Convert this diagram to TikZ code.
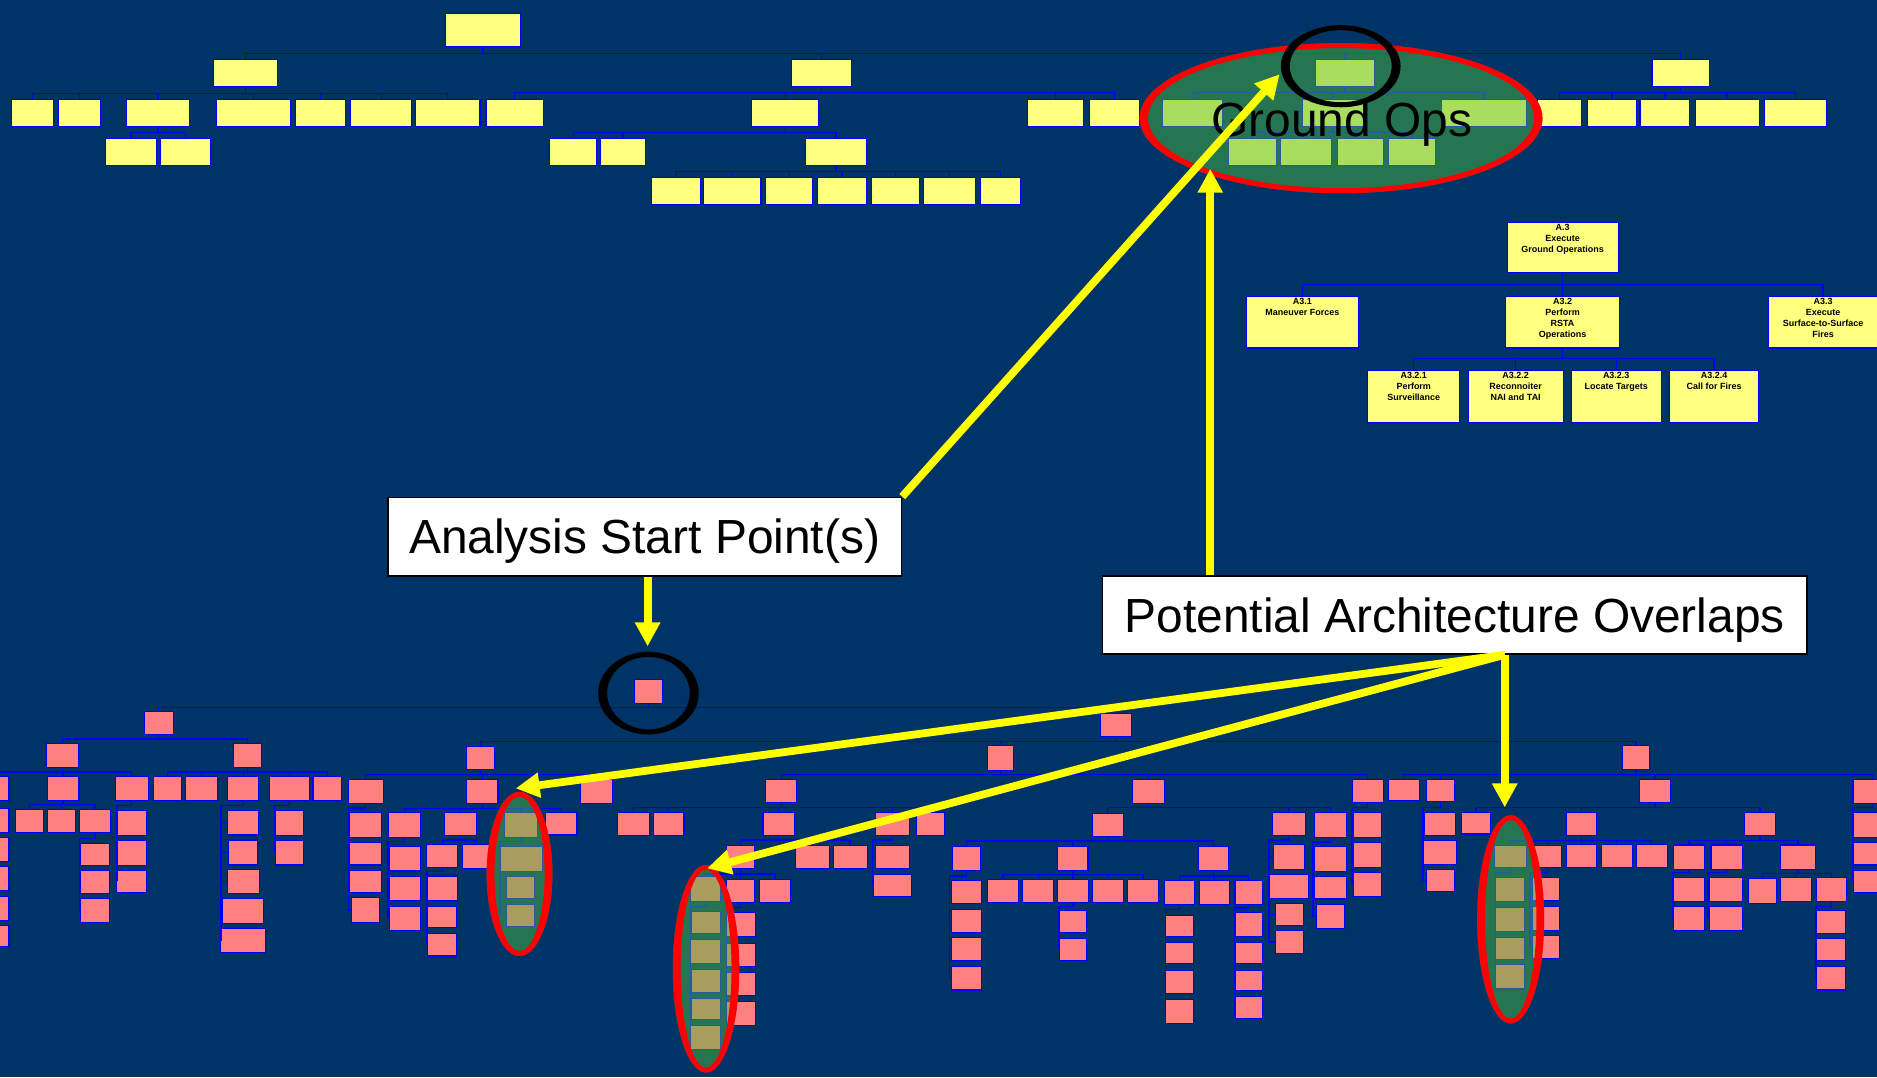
\documentclass[tikz,border=0pt]{standalone}
\usepackage{fontspec}
\setmainfont{Liberation Sans}
\usetikzlibrary{arrows.meta}
\definecolor{bg}{RGB}{0,51,102}
\definecolor{yel}{RGB}{255,255,128}
\definecolor{pnk}{RGB}{255,128,128}
\definecolor{lblue}{RGB}{0,0,255}
\definecolor{ovfill}{RGB}{78,186,61}
\definecolor{ringred}{RGB}{255,0,0}
\definecolor{ayel}{RGB}{255,255,0}
\newcommand\bx[6]{\node[#2,minimum width={(#5)-(#3)},minimum height={(#6)-(#4)}] (#1) at ({((#3)+(#5))/2},{((#4)+(#6))/2}) {};}
\newcommand\kids[3]{\coordinate (kb) at (0,#2);\foreach \kk in {#3}{\draw[tl] (#1.south) |- (\kk.north |- kb) -- (\kk.north);}}
\newcommand\chain[4]{\coordinate (kb) at (#3,#2);\foreach \kk in {#4}{\draw[tl] (#1.south) |- (kb) |- (\kk.west);}}
\newcommand\ring[7]{\fill[#7,even odd rule] (#1,#2) ellipse [x radius=#3pt,y radius=#4pt] (#1,#2) ellipse [x radius=#5pt,y radius=#6pt];}
\newcommand\ovl[4]{\fill[ovfill,fill opacity=0.49] (#1,#2) ellipse [x radius=#3pt,y radius=#4pt];}
\begin{document}
\begin{tikzpicture}[x=1pt,y=-1pt,
 ybox/.style={draw=lblue,fill=yel,line width=0.9pt,inner sep=0pt,outer sep=0pt},
 pbox/.style={draw=lblue,fill=pnk,line width=0.9pt,inner sep=0pt,outer sep=0pt},
 tl/.style={draw=lblue,line width=1.1pt},
 dtext/.style={font=\fontsize{7.5}{9.2}\selectfont\bfseries,align=center,inner sep=0pt,anchor=north,text=black},
 lbl/.style={draw=black,line width=1.4pt,fill=white,inner sep=0pt,font=\fontsize{40}{48}\selectfont,text height=28.6pt,text depth=0pt},
 yarr/.style={draw=ayel,line width=6.5pt,-{Triangle[length=20pt,width=20pt]}}]
\useasboundingbox (0,0) rectangle (1568,900);
\fill[bg] (0,0) rectangle (1568,900);
% ---------- top yellow tree
\bx{Y0}{ybox}{372}{11}{435}{39}
\bx{Y1}{ybox}{178}{50}{232}{72.5}
\bx{Y2}{ybox}{661}{50}{711}{72.5}
\bx{G0}{ybox}{1099}{50}{1148}{72.5}
\bx{Y3}{ybox}{1380}{50}{1428}{72.5}
\kids{Y0}{44.5}{Y1,Y2,G0,Y3}
\bx{Y11}{ybox}{9.5}{83}{45}{106}
\bx{Y12}{ybox}{49}{83}{84}{106}
\bx{Y13}{ybox}{106}{83}{158}{106}
\bx{Y14}{ybox}{181}{83}{243}{106}
\bx{Y15}{ybox}{247}{83}{289}{106}
\bx{Y16}{ybox}{293}{83}{344}{106}
\bx{Y17}{ybox}{347}{83}{401}{106}
\kids{Y1}{78}{Y11,Y12,Y13,Y14,Y15,Y16,Y17}
\bx{Y21}{ybox}{406}{83}{454}{106}
\bx{Y22}{ybox}{628}{83}{684}{106}
\bx{Y23}{ybox}{858}{83}{905.5}{106}
\bx{Y24}{ybox}{910}{83}{952}{106}
\kids{Y2}{77}{Y21,Y22,Y23,Y24}
\bx{G1}{ybox}{971}{83}{1021}{106}
\bx{G2}{ybox}{1088}{83}{1139}{106}
\bx{G3}{ybox}{1204.5}{83}{1275}{106}
\kids{G0}{77.4}{G1,G2,G3}
\bx{Y31}{ybox}{1284}{83}{1321}{106}
\bx{Y32}{ybox}{1326}{83}{1367}{106}
\bx{Y33}{ybox}{1370}{83}{1411.5}{106}
\bx{Y34}{ybox}{1416}{83}{1469.5}{106}
\bx{Y35}{ybox}{1474}{83}{1526}{106}
\kids{Y3}{77.4}{Y31,Y32,Y33,Y34,Y35}
\bx{Y131}{ybox}{88.4}{115.6}{130.4}{138.5}
\bx{Y132}{ybox}{134}{115.6}{176}{138.5}
\kids{Y13}{110.5}{Y131,Y132}
\bx{Y221}{ybox}{459}{115.6}{498.6}{138.5}
\bx{Y222}{ybox}{502}{115.6}{539}{138.5}
\bx{Y223}{ybox}{672.6}{115.6}{724}{138.5}
\kids{Y22}{110.5}{Y221,Y222,Y223}
\bx{G21}{ybox}{1026}{115.6}{1066}{138.5}
\bx{G22}{ybox}{1070}{115.6}{1112}{138.5}
\bx{G23}{ybox}{1117}{115.6}{1156}{138.5}
\bx{G24}{ybox}{1160}{115.6}{1199}{138.5}
\kids{G2}{110.5}{G21,G22,G23,G24}
\bx{Y2231}{ybox}{544}{148.4}{585}{170.6}
\bx{Y2232}{ybox}{587.6}{148.4}{635.7}{170.6}
\bx{Y2233}{ybox}{639.6}{148.4}{679}{170.6}
\bx{Y2234}{ybox}{683}{148.4}{724}{170.6}
\bx{Y2235}{ybox}{728}{148.4}{768}{170.6}
\bx{Y2236}{ybox}{771.7}{148.4}{814.8}{170.6}
\bx{Y2237}{ybox}{818.7}{148.4}{852.8}{170.6}
\kids{Y223}{143.4}{Y2231,Y2232,Y2233,Y2234,Y2235,Y2236,Y2237}
% Ground Ops highlight
\ovl{1120.3}{98.7}{168.3}{62.7}
\ring{1120.3}{98.7}{168.3}{62.7}{161.3}{58.5}{ringred}
\node[font=\fontsize{40}{48}\selectfont,anchor=base,inner sep=0pt] (gops) at (1121,114.2) {Ground Ops};
\ring{1120}{55.3}{50}{34.3}{42.6}{30.1}{black}
% ---------- detail tree
\bx{A3}{ybox}{1259}{185.7}{1351.7}{228}
\bx{A31}{ybox}{1041.4}{247.3}{1134.5}{290.7}
\bx{A32}{ybox}{1258}{247.3}{1352.6}{290.7}
\bx{A33}{ybox}{1477}{247.3}{1569}{290.7}
\kids{A3}{237.8}{A31,A32,A33}
\bx{A321}{ybox}{1142.7}{309.4}{1219.3}{352.8}
\bx{A322}{ybox}{1226.4}{309.4}{1305.8}{352.8}
\bx{A323}{ybox}{1312.5}{309.4}{1387.8}{352.8}
\bx{A324}{ybox}{1395}{309.4}{1468.8}{352.8}
\kids{A32}{299.4}{A321,A322,A323,A324}
\node[dtext] (A3t) at ([yshift=-1.6pt]A3.north) {A.3\\Execute\\Ground Operations};
\node[dtext] (A31t) at ([yshift=-1.6pt]A31.north) {A3.1\\Maneuver Forces};
\node[dtext] (A32t) at ([yshift=-1.6pt]A32.north) {A3.2\\Perform\\RSTA\\Operations};
\node[dtext] (A33t) at ([yshift=-1.6pt]A33.north) {A3.3\\Execute\\Surface-to-Surface\\Fires};
\node[dtext] (A321t) at ([yshift=-1.6pt]A321.north) {A3.2.1\\Perform\\Surveillance};
\node[dtext] (A322t) at ([yshift=-1.6pt]A322.north) {A3.2.2\\Reconnoiter\\NAI and TAI};
\node[dtext] (A323t) at ([yshift=-1.6pt]A323.north) {A3.2.3\\Locate Targets};
\node[dtext] (A324t) at ([yshift=-1.6pt]A324.north) {A3.2.4\\Call for Fires};
% ---------- pink tree
\bx{P0}{pbox}{530}{567.3}{553.5}{587.3}
\bx{P1}{pbox}{120.5}{594.6}{144.7}{613.5}
\bx{P2}{pbox}{919}{596}{945}{615.4}
\kids{P0}{591}{P1,P2}
\bx{P11}{pbox}{38.8}{621.3}{65.3}{640.8}
\bx{P12}{pbox}{195.4}{621.3}{218.2}{640.8}
\kids{P1}{617.4}{P11,P12}
\bx{P21}{pbox}{389.8}{623.3}{412.9}{643}
\bx{P22}{pbox}{824.6}{623}{846.6}{643.3}
\bx{P23}{pbox}{1355.5}{623}{1377.7}{642.7}
\kids{P2}{619.6}{P21,P22,P23}
\bx{P111}{pbox}{-18}{649}{7.5}{668.6}
\bx{P112}{pbox}{39.5}{649}{66}{668.6}
\bx{P113}{pbox}{96.2}{649}{123.8}{668.6}
\kids{P11}{645}{P111,P112,P113}
\bx{P121}{pbox}{128}{649}{151.8}{668.6}
\bx{P122}{pbox}{154.8}{649}{181.6}{668.6}
\bx{P123}{pbox}{190.2}{649}{216.3}{668.6}
\bx{P124}{pbox}{225}{649}{258.5}{668.6}
\bx{P125}{pbox}{261.5}{649}{285.3}{668.6}
\kids{P12}{645}{P121,P122,P123,P124,P125}
\bx{P211}{pbox}{291}{650.8}{320}{671.2}
\bx{P212}{pbox}{389.8}{650.8}{416}{671.2}
\bx{P213}{pbox}{485}{651}{511.8}{671}
\kids{P21}{647}{P211,P212,P213}
\bx{P221}{pbox}{639.6}{650.8}{665.7}{670.3}
\bx{P222}{pbox}{945.9}{650.8}{973}{671.2}
\bx{P223}{pbox}{1129.5}{650.8}{1155.6}{670.3}
\kids{P22}{647}{P221,P222,P223}
\bx{P231}{pbox}{1159.6}{650.8}{1185.7}{669}
\bx{P232}{pbox}{1191.7}{650.8}{1214.7}{669.5}
\bx{P233}{pbox}{1369.5}{650.8}{1395.5}{670.5}
\bx{P234}{pbox}{1547.9}{650.8}{1580}{671.2}
\kids{P23}{647}{P231,P232,P233,P234}
% left column
\bx{Q1}{pbox}{-18}{675.3}{7.5}{695.7}
\bx{Q2}{pbox}{-18}{699.6}{7.5}{719.9}
\bx{Q3}{pbox}{-18}{723.5}{7.5}{744}
\bx{Q4}{pbox}{-18}{748.6}{7.5}{769.2}
\bx{Q5}{pbox}{-18}{772.8}{7.5}{791}
\chain{P111}{672}{-20}{Q1,Q2,Q3,Q4,Q5}
\bx{P1121}{pbox}{13}{676.2}{36.6}{695.1}
\bx{P1122}{pbox}{39.5}{676.2}{63.4}{695.1}
\bx{P1123}{pbox}{66.4}{676.2}{92.5}{695.1}
\kids{P112}{672}{P1121,P1122,P1123}
\bx{R1}{pbox}{67}{704.6}{91.4}{723.2}
\bx{R2}{pbox}{67}{726.8}{91.4}{746.3}
\bx{R3}{pbox}{67}{750.5}{91.4}{770.8}
\chain{P1123}{700.4}{66.4}{R1,R2,R3}
\bx{S1}{pbox}{97.7}{677.3}{122}{697.6}
\bx{S2}{pbox}{97.7}{702}{122}{722.7}
\bx{S3}{pbox}{97.7}{726.8}{122}{745.5}
\chain{P113}{673}{97.7}{S1,S2,S3}
\bx{T1}{pbox}{190.2}{676.7}{216.3}{697.5}
\bx{T2}{pbox}{191}{701.7}{215.3}{722.6}
\bx{T3}{pbox}{190}{726.2}{216.5}{746.3}
\bx{T4}{pbox}{185.8}{750.5}{220.3}{771.3}
\bx{T5}{pbox}{184.5}{775.5}{221.5}{795.9}
\chain{P123}{673}{184.6}{T1,T2,T3,T4,T5}
\bx{U1}{pbox}{230}{677}{253.6}{697.6}
\bx{U2}{pbox}{230}{702}{253.6}{722.6}
\chain{P124}{673}{229.4}{U1,U2}
\bx{V1}{pbox}{292}{679}{318.8}{699.5}
\bx{V2}{pbox}{292}{703.7}{318.8}{722.6}
\bx{V3}{pbox}{292}{726.8}{318.8}{745.4}
\bx{V4}{pbox}{293.9}{750}{317}{770.5}
\chain{P211}{675}{291}{V1,V2,V3,V4}
\bx{W1}{pbox}{324.5}{679}{351}{699.5}
\bx{W2}{pbox}{371.5}{679}{398}{697.6}
\bx{W3}{pbox}{421.5}{678.6}{449}{699.5}
\bx{W4}{pbox}{456}{678.6}{482}{697.5}
\kids{P212}{675.3}{W1,W2,W3,W4}
\bx{W11}{pbox}{325}{707.3}{351}{727.6}
\bx{W12}{pbox}{325}{732.4}{351}{752.4}
\bx{W13}{pbox}{325}{757.4}{351}{777.5}
\chain{W1}{703}{324.2}{W11,W12,W13}
\bx{W21}{pbox}{356.6}{705.3}{382.4}{724.6}
\bx{W22}{pbox}{386.5}{705.3}{409.4}{725.4}
\kids{W2}{701.7}{W21,W22}
\bx{W211}{pbox}{356.6}{731.8}{382.4}{752.4}
\bx{W212}{pbox}{357.4}{756.9}{381.5}{775}
\bx{W213}{pbox}{357.4}{779.7}{381.5}{798.6}
\chain{W21}{728}{356.6}{W211,W212,W213}
\bx{W31}{pbox}{417.7}{707.3}{453}{728.2}
\bx{W32}{pbox}{423}{732.4}{446.8}{750.5}
\bx{W33}{pbox}{423}{755.5}{446.8}{773.6}
\chain{W3}{703}{417.7}{W31,W32,W33}
\bx{X1}{pbox}{516}{678.7}{542.3}{697.6}
\bx{X2}{pbox}{545.6}{678.7}{571.4}{697.6}
\bx{X3}{pbox}{637.4}{678.7}{663.5}{697.6}
\bx{X4}{pbox}{731.4}{678.7}{759.4}{697.6}
\bx{X5}{pbox}{765.3}{678.7}{788.8}{697.6}
\kids{P221}{674.8}{X1,X2,X3,X4,X5}
\bx{X31}{pbox}{606.8}{706}{630}{725.4}
\bx{X32}{pbox}{664.3}{706}{692.6}{725.4}
\bx{X33}{pbox}{696}{706}{724.3}{725.4}
\kids{X3}{701.8}{X31,X32,X33}
\bx{X311}{pbox}{577}{732.4}{602.3}{753.3}
\bx{X312}{pbox}{606.8}{734.4}{630}{753.8}
\bx{X313}{pbox}{634.4}{734.4}{660.5}{753.8}
\kids{X31}{730}{X311,X312,X313}
\bx{X3111}{pbox}{577.7}{761.6}{601.5}{779.7}
\bx{X3112}{pbox}{577}{784.7}{601.8}{804.8}
\bx{X3113}{pbox}{577.7}{809.5}{601.5}{829}
\bx{X3114}{pbox}{577.7}{834}{601.5}{852}
\bx{X3115}{pbox}{577}{857}{602}{877}
\chain{X311}{757.3}{577}{X3111,X3112,X3113,X3114,X3115}
\bx{X3121}{pbox}{606.8}{762.5}{630.8}{782.5}
\bx{X3122}{pbox}{606.8}{788}{630.8}{807}
\bx{X3123}{pbox}{606.8}{812.3}{630.8}{831.3}
\bx{X3124}{pbox}{606.8}{836.3}{630.8}{856.3}
\chain{X312}{758}{606.8}{X3121,X3122,X3123,X3124}
\bx{X41}{pbox}{731.4}{706}{759.4}{725.4}
\bx{X42}{pbox}{729.5}{730.2}{761.6}{749.2}
\chain{X4}{701.8}{728.8}{X41,X42}
\bx{Z1}{pbox}{912.3}{679.5}{938.4}{699}
\bx{Z2}{pbox}{1063}{679}{1090.4}{697.6}
\bx{Z3}{pbox}{1097.8}{679}{1124.8}{699.5}
\kids{P222}{674.8}{Z1,Z2,Z3}
\bx{Z11}{pbox}{795.9}{707.3}{819.4}{727.4}
\bx{Z12}{pbox}{883.6}{707.3}{908.9}{727}
\bx{Z13}{pbox}{1001}{707.3}{1026.4}{727.4}
\kids{Z1}{702.6}{Z11,Z12,Z13}
\bx{Z111}{pbox}{794.8}{735.2}{820.2}{754.7}
\bx{Z112}{pbox}{794.8}{759.4}{820.2}{778.9}
\bx{Z113}{pbox}{794.8}{783.4}{820.2}{802.6}
\bx{Z114}{pbox}{794.8}{807.6}{820.2}{827}
\chain{Z11}{731.8}{793.3}{Z111,Z112,Z113,Z114}
\bx{Z121}{pbox}{825}{734.6}{850.7}{754.1}
\bx{Z122}{pbox}{854.5}{734.6}{880.2}{754.1}
\bx{Z123}{pbox}{883.6}{734.6}{909}{754.1}
\bx{Z124}{pbox}{912.7}{734.6}{938.8}{754.1}
\bx{Z125}{pbox}{942.1}{734.6}{967.5}{754.1}
\kids{Z12}{730.5}{Z121,Z122,Z123,Z124,Z125}
\bx{Z1231}{pbox}{884.7}{760.8}{907.8}{779.2}
\bx{Z1232}{pbox}{884.7}{784}{907.8}{802}
\chain{Z123}{757.5}{884.7}{Z1231,Z1232}
\bx{Z131}{pbox}{973}{735.7}{998}{755.5}
\bx{Z132}{pbox}{1001.8}{735.7}{1027.2}{755.5}
\bx{Z133}{pbox}{1031.7}{735.7}{1054.4}{755.5}
\kids{Z13}{731.8}{Z131,Z132,Z133}
\bx{Z1311}{pbox}{973.8}{764.4}{997.3}{782.5}
\bx{Z1312}{pbox}{973.8}{787.3}{997.3}{804.8}
\bx{Z1313}{pbox}{973.8}{810.4}{997.3}{829.9}
\bx{Z1314}{pbox}{973.8}{834.9}{997.3}{854.9}
\chain{Z131}{760}{973.8}{Z1311,Z1312,Z1313,Z1314}
\bx{Z1331}{pbox}{1031.7}{762.2}{1054.4}{782}
\bx{Z1332}{pbox}{1031.7}{787.3}{1054.4}{804.8}
\bx{Z1333}{pbox}{1031.7}{810.4}{1054.4}{827.6}
\bx{Z1334}{pbox}{1031.7}{832.6}{1054.4}{850.7}
\chain{Z133}{758.5}{1031}{Z1331,Z1332,Z1333,Z1334}
\bx{Z21}{pbox}{1064}{705.4}{1089.7}{726}
\bx{Z22}{pbox}{1060.3}{730.5}{1093.1}{750.5}
\bx{Z23}{pbox}{1065.4}{754.7}{1088.7}{773.3}
\bx{Z24}{pbox}{1065.4}{777.5}{1088.7}{796.5}
\chain{Z2}{701.8}{1060}{Z21,Z22,Z23,Z24}
\bx{Z31}{pbox}{1097.8}{707.3}{1124.8}{728.2}
\bx{Z32}{pbox}{1097.8}{732.4}{1124.8}{751}
\bx{Z33}{pbox}{1099.4}{755.5}{1122.8}{775.6}
\chain{Z3}{703.5}{1096.8}{Z31,Z32,Z33}
\bx{AA1}{pbox}{1130.5}{679}{1153.9}{699.5}
\bx{AA2}{pbox}{1130.5}{704}{1153.9}{724.6}
\bx{AA3}{pbox}{1130.5}{728.8}{1153.9}{749.1}
\chain{P223}{674.8}{1129.5}{AA1,AA2,AA3}
\bx{BB1}{pbox}{1190.3}{678.4}{1215.7}{697.6}
\bx{BB2}{pbox}{1189}{702.3}{1216.7}{721.8}
\bx{BB3}{pbox}{1191.4}{726.3}{1214.7}{745}
\chain{P232}{674.8}{1188.7}{BB1,BB2,BB3}
\bx{CC1}{pbox}{1221}{678.4}{1244.8}{696.7}
\bx{CC2}{pbox}{1308.3}{678.4}{1333.7}{697.6}
\bx{CC3}{pbox}{1457.3}{678.4}{1483}{698.1}
\kids{P233}{674.8}{CC1,CC2,CC3}
\bx{CC21}{pbox}{1248.8}{706}{1274.8}{725}
\bx{CC22}{pbox}{1281.6}{706}{1304.3}{725}
\bx{CC23}{pbox}{1308.3}{705.4}{1333.7}{725}
\bx{CC24}{pbox}{1337.7}{705.4}{1363.4}{725}
\bx{CC25}{pbox}{1366.8}{705.4}{1392.9}{725}
\kids{CC2}{702}{CC21,CC22,CC23,CC24,CC25}
\bx{CC211}{pbox}{1249.5}{733.2}{1273.5}{753.3}
\bx{CC212}{pbox}{1249.5}{758.3}{1273.5}{778.3}
\bx{CC213}{pbox}{1249.5}{782.8}{1273.5}{801.2}
\bx{CC214}{pbox}{1249.5}{805.6}{1273.5}{826.2}
\chain{CC21}{729}{1249.5}{CC211,CC212,CC213,CC214}
\bx{CC221}{pbox}{1280}{733.2}{1302.6}{752.5}
\bx{CC222}{pbox}{1280}{757.5}{1302.6}{777}
\bx{CC223}{pbox}{1280}{781.1}{1302.6}{800.6}
\chain{CC22}{729}{1278.2}{CC221,CC222,CC223}
\bx{CC31}{pbox}{1397.9}{705.9}{1423.9}{726}
\bx{CC32}{pbox}{1429.3}{705.9}{1455.3}{726}
\bx{CC33}{pbox}{1487.4}{705.9}{1516.5}{726}
\kids{CC3}{702.3}{CC31,CC32,CC33}
\bx{CC311}{pbox}{1397.9}{733.2}{1423.9}{753.3}
\bx{CC312}{pbox}{1397.9}{757.5}{1423.9}{777}
\chain{CC31}{729}{1397.6}{CC311,CC312}
\bx{CC321}{pbox}{1428}{733.2}{1455.3}{753.3}
\bx{CC322}{pbox}{1428}{757.5}{1455.3}{777}
\chain{CC32}{729}{1426.9}{CC321,CC322}
\bx{CC331}{pbox}{1460.4}{733.8}{1483.7}{754.7}
\bx{CC332}{pbox}{1487}{733.2}{1513}{753.3}
\bx{CC333}{pbox}{1517.2}{733.2}{1542.2}{753.3}
\kids{CC33}{729.6}{CC331,CC332,CC333}
\bx{CC3331}{pbox}{1517.8}{760.3}{1541.6}{779.8}
\bx{CC3332}{pbox}{1517.8}{784}{1541.6}{802.6}
\bx{CC3333}{pbox}{1517.8}{807}{1541.6}{827}
\chain{CC333}{757}{1517}{CC3331,CC3332,CC3333}
\bx{DD1}{pbox}{1548}{679}{1580}{699.5}
\bx{DD2}{pbox}{1548}{704}{1580}{722.6}
\bx{DD3}{pbox}{1548}{727.4}{1580}{745.5}
\chain{P234}{674.8}{1548}{DD1,DD2,DD3}
% ---------- overlap ovals
\ovl{434}{730}{27.5}{68.6}
\ring{434}{730}{27.5}{68.6}{21}{64.4}{ringred}
\ovl{589.8}{809.3}{27.8}{86.7}
\ring{589.8}{809.3}{27.8}{86.7}{21.3}{82.5}{ringred}
\ovl{1262}{768}{28}{87}
\ring{1262}{768}{28}{87}{21.5}{82.8}{ringred}
\ring{541.7}{579}{42}{34.5}{34.5}{30.3}{black}
% ---------- labels
\node[lbl,minimum width=429,minimum height=65.7] (ana) at (538.5,448.4) {Analysis Start Point(s)};
\node[lbl,minimum width=588.6,minimum height=65.4] (pot) at (1215.3,513.7) {Potential Architecture Overlaps};
% ---------- arrows
\coordinate (t1) at (1069,62);
\coordinate (t2) at (1011,141);
\coordinate (t3) at (541,540);
\coordinate (fan) at (1257,547);
\coordinate (t4) at (430.8,658.6);
\coordinate (t5) at (590.7,725.4);
\coordinate (t6) at (1257,674.5);
\draw[yarr] (ana.north east) -- (t1);
\draw[yarr] (pot.north -| t2) -- (t2);
\draw[yarr] (ana.south -| t3) -- (t3);
\draw[yarr] (fan) -- (t4);
\draw[yarr] (fan) -- (t5);
\draw[yarr] (fan) -- (t6);
\end{tikzpicture}
\end{document}
